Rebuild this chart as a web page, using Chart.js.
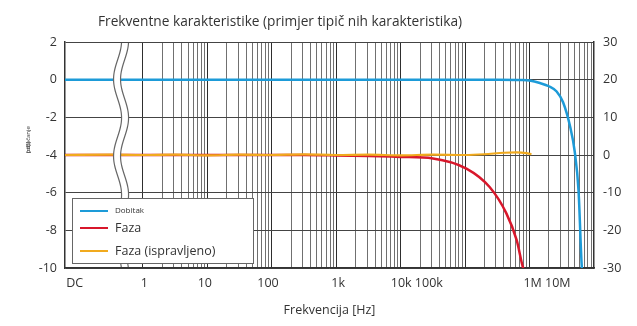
<!DOCTYPE html>
<html>
<head>
<meta charset="utf-8">
<script src="https://cdn.jsdelivr.net/npm/chart.js@4.4.1/dist/chart.umd.min.js"></script>
<style>
  html, body { margin: 0; padding: 0; background: #fff; }
  #wrap { width: 637px; height: 326px; }
</style>
</head>
<body>
<div id="wrap"><canvas id="graf"></canvas></div>
<script>
// x os je u dekadama: log10(f / 1 Hz), DC lezi lijevo od prekida
const dobitakX = [-1.21, 0, 2, 4, 5.5, 5.9, 6.0, 6.16, 6.3, 6.42, 6.52, 6.63, 6.70, 6.76, 6.81, 6.83];
const dobitakY = [0, 0, 0, 0, 0, -0.02, -0.05, -0.18, -0.35, -0.63, -1.2, -2.5, -3.8, -5.9, -9.9, -10.5];

const fazaX = [-1.21, 0, 2.5, 3.0, 3.5, 4.0, 4.5, 5.02, 5.38, 5.64, 5.80, 5.90, 5.93];
const fazaY = [0, 0, 0, -0.1, -0.25, -0.5, -0.9, -3.6, -8.5, -15.5, -22.6, -30, -31];

const ispravljenoX = [-1.21, -0.5, 0, 0.5, 1, 1.5, 2, 2.5, 3, 3.5, 4, 4.5, 5, 5.3, 5.6, 5.8, 5.95, 6.03];
const ispravljenoY = [0, 0.1, 0, 0.1, -0.1, 0.1, 0, 0.15, 0, 0.1, -0.1, 0.1, 0, 0.2, 0.6, 0.7, 0.5, 0.2];

// oznake na x osi i njihov polozaj (u dekadama)
const xOznake = ['DC', '1', '10', '100', '1k', '10k 100k', '1M 10M'];
const xPolozaj = [-1.06, 0.02, 0.96, 1.94, 3.03, 4.25, 6.27];

const xMin = -1.21, xMax = 7;
const prekid = -0.34;   // mjesto prekida osi izmedju DC i 1 Hz

const FONT = '"Open Sans", "Noto Sans", sans-serif';
const TEXT = '#333';

function tocke(xs, ys) {
  return xs.map((x, i) => ({ x: x, y: ys[i] }));
}

// mreza: 1..9 x 10^n za svaku dekadu, plus mjesta oznaka (bez linije)
function xTicks(scale) {
  const t = [];
  for (let n = 0; n < 7; n++) {
    for (let k = 1; k <= 9; k++) {
      t.push({ value: n + Math.log10(k), kind: k === 1 ? 'dek' : 'min', txt: '' });
    }
  }
  xOznake.forEach((s, i) => t.push({ value: xPolozaj[i], kind: 'lbl', txt: s }));
  scale.ticks = t;
}

const crtez = {
  id: 'crtez',
  afterDatasetsDraw(chart) {
    const { ctx, chartArea: a, scales } = chart;
    const xc = scales.x.getPixelForValue(prekid);
    const top = a.top + 1, bot = a.bottom - 1;
    const wave = (y, d) => xc + d + 4 * Math.sin(2 * Math.PI * (y - a.top - 56.5) / 77);
    ctx.save();
    ctx.beginPath();
    for (let y = top; y <= bot; y++) ctx.lineTo(wave(y, -3.5), y);
    for (let y = bot; y >= top; y--) ctx.lineTo(wave(y, 3.5), y);
    ctx.closePath();
    ctx.fillStyle = '#fff';
    ctx.fill();
    ctx.strokeStyle = '#666';
    ctx.lineWidth = 1.2;
    [-3.5, 3.5].forEach(d => {
      ctx.beginPath();
      for (let y = top; y <= bot; y++) ctx.lineTo(wave(y, d), y);
      ctx.stroke();
    });
    ctx.restore();
  },
  afterDraw(chart) {
    const { ctx, chartArea: a } = chart;
    ctx.save();
    // naslov
    ctx.fillStyle = TEXT;
    ctx.font = '13.7px ' + FONT;
    ctx.textBaseline = 'middle';
    ctx.textAlign = 'left';
    ctx.fillText('Frekventne karakteristike (primjer tipič nih karakteristika)', 98, 22);

    // sitni naslov lijeve osi
    ctx.save();
    ctx.translate(28, 153);
    ctx.rotate(-Math.PI / 2);
    ctx.font = '6px ' + FONT;
    ctx.fillText('pojačanje', 0, 0);
    ctx.fillText('[dB]', 0, 0);
    ctx.restore();

    // legenda
    const lx = a.left + 7, ly = a.bottom - 70, lw = 181, lh = 65;
    ctx.fillStyle = '#fff';
    ctx.fillRect(lx, ly, lw, lh);
    ctx.strokeStyle = '#666';
    ctx.lineWidth = 1;
    ctx.strokeRect(lx + 0.5, ly + 0.5, lw, lh);
    const rows = [13, 30, 53];
    const sizes = [8, 12.5, 12.5];
    chart.data.datasets.forEach((ds, i) => {
      const y = ly + rows[i];
      ctx.strokeStyle = ds.borderColor;
      ctx.lineWidth = 2;
      ctx.beginPath();
      ctx.moveTo(lx + 8, y);
      ctx.lineTo(lx + 36, y);
      ctx.stroke();
      ctx.fillStyle = TEXT;
      ctx.font = sizes[i] + 'px ' + FONT;
      ctx.fillText(ds.label, lx + 43, y);
    });
    ctx.restore();
  }
};

new Chart(document.getElementById('graf'), {
  type: 'line',
  data: {
    datasets: [
      { label: 'Dobitak', data: tocke(dobitakX, dobitakY), yAxisID: 'y',
        borderColor: '#1d9bd8', borderWidth: 2.5, order: 0 },
      { label: 'Faza', data: tocke(fazaX, fazaY), yAxisID: 'y1',
        borderColor: '#d8172b', borderWidth: 2.5, order: 2 },
      { label: 'Faza (ispravljeno)', data: tocke(ispravljenoX, ispravljenoY), yAxisID: 'y1',
        borderColor: '#f1aa1e', borderWidth: 2.2, order: 1 }
    ]
  },
  options: {
    responsive: true,
    maintainAspectRatio: false,
    animation: false,
    layout: { padding: { top: 42, left: 0, right: 0, bottom: 0 } },
    elements: {
      point: { radius: 0 },
      line: { tension: 0.4, cubicInterpolationMode: 'monotone' }
    },
    plugins: { legend: { display: false }, tooltip: { enabled: false } },
    scales: {
      x: {
        type: 'linear',
        min: xMin,
        max: xMax,
        afterBuildTicks: xTicks,
        afterFit(s) { s.height = 58; },
        grid: {
          drawTicks: false,
          color: c => c.tick && c.tick.kind === 'dek' ? '#2e2e2e' : c.tick && c.tick.kind === 'min' ? '#707070' : 'rgba(0,0,0,0)',
          lineWidth: 1
        },
        border: { color: '#333', width: 1.5 },
        ticks: {
          autoSkip: false,
          maxRotation: 0,
          padding: 8,
          color: TEXT,
          font: { family: FONT, size: 12.5 },
          callback: (v, i, t) => t[i].txt
        },
        title: {
          display: true,
          text: 'Frekvencija [Hz]',
          color: TEXT,
          font: { family: FONT, size: 12.5 },
          padding: { top: 0, bottom: 8 }
        }
      },
      y: {
        position: 'left',
        min: -10,
        max: 2,
        afterFit(s) { s.width = 65; },
        grid: { drawTicks: false, color: '#444', lineWidth: 1 },
        border: { color: '#333', width: 1.5 },
        ticks: { stepSize: 2, padding: 8, color: TEXT, font: { family: FONT, size: 12.5 } }
      },
      y1: {
        position: 'right',
        min: -30,
        max: 30,
        afterFit(s) { s.width = 43; },
        grid: { display: false, drawTicks: false },
        border: { color: '#333', width: 1.5 },
        ticks: { stepSize: 10, padding: 9, color: TEXT, font: { family: FONT, size: 12.5 } }
      }
    }
  },
  plugins: [crtez]
});
</script>
</body>
</html>
